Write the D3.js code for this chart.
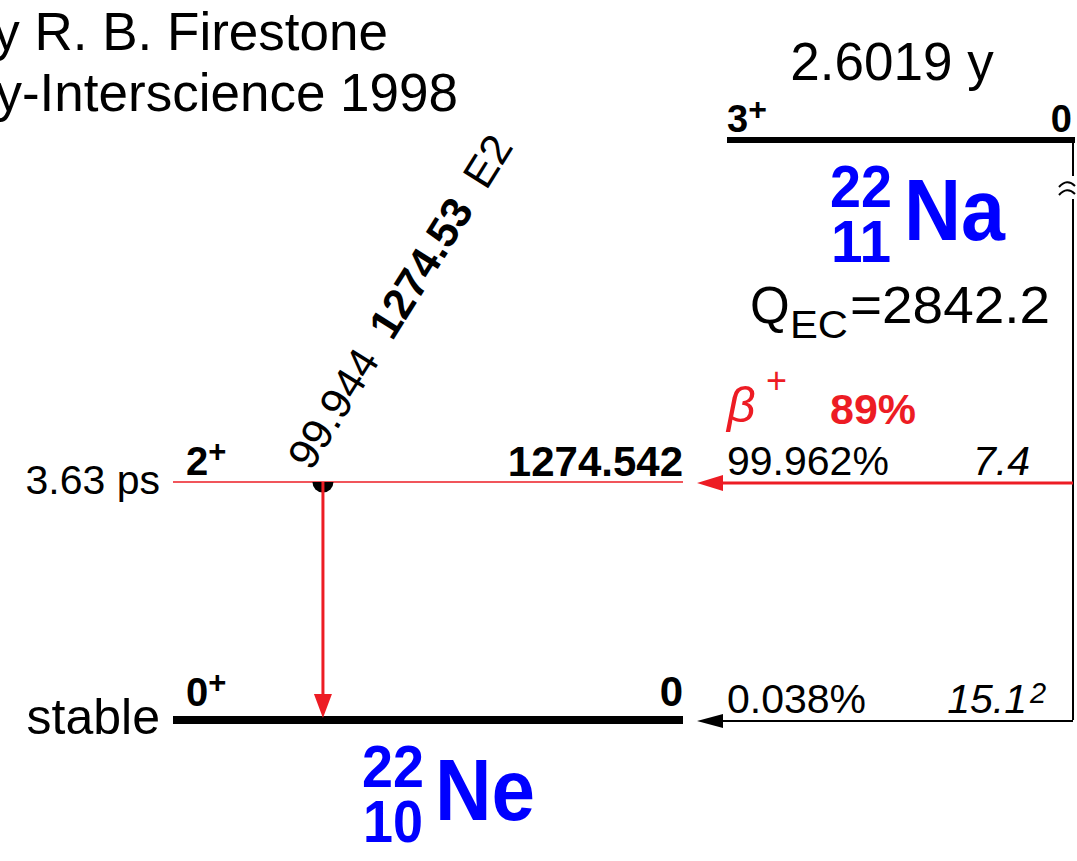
<!DOCTYPE html>
<html>
<head>
<meta charset="utf-8">
<script src="https://cdn.jsdelivr.net/npm/d3@7"></script>
<style>
  body { margin: 0; background: #fff; }
  svg { display: block; }
  text { font-family: "Liberation Sans", Arial, Helvetica, sans-serif; }
</style>
</head>
<body>
<svg id="chart" width="1077" height="861"></svg>
<script>
// Decay scheme: 22Na (EC + beta+) -> 22Ne

// daughter (22Ne) levels
const levelEnergies     = [0, 1274.542];
const levelEnergyLabels = ["0", "1274.542"];
const levelSpins        = ["0", "2"];
const levelParities     = ["+", "+"];
const levelHalfLives    = ["stable", "3.63 ps"];

// feeding branches from the parent ground state
const branchIntensities = ["0.038%", "99.962%"];
const branchLogFt       = ["15.1", "7.4"];
const branchLogFtNote   = ["2", ""];

// gamma transitions
const gammaFrom            = [1274.542];
const gammaTo              = [0];
const gammaEnergies        = ["1274.53"];
const gammaIntensities     = ["99.944"];
const gammaMultipolarities = ["E2"];

// parent (22Na)
const parentSpin      = "3";
const parentParity    = "+";
const parentEnergy    = "0";
const parentHalfLife  = "2.6019 y";
const qValueEC        = "2842.2";
const betaPlusPercent = "89%";

const credits = ["by R. B. Firestone", "Wiley-Interscience 1998"];

const RED = "#ed1c24";
const BLUE = "#0000ff";

const svg = d3.select("#chart");

// energy scale for the daughter levels; the parent sits above an axis break
const y = d3.scaleLinear().domain([0, d3.max(levelEnergies)]).range([720, 482]);
const yParent = 140;

// horizontal layout
const x = d3.scaleLinear().domain([0, 1]).range([173, 683]);   // daughter level span
const parentX0 = 727, parentX1 = 1075;
const dropX = 1073;                 // vertical line from the parent
const gammaX = x(0.294);
const arrowTipX = 697;

// credits, top left
svg.append("g").selectAll("text").data(credits).join("text")
  .attr("x", (d, i) => i === 0 ? 388 : 458)
  .attr("y", (d, i) => 50 + i * 61)
  .attr("text-anchor", "end")
  .attr("font-size", 53)
  .text(d => d);

// ---------- parent level ----------
const parent = svg.append("g");
parent.append("line")
  .attr("x1", parentX0).attr("x2", parentX1)
  .attr("y1", yParent).attr("y2", yParent)
  .attr("stroke", "#000").attr("stroke-width", 6);

const pSpin = parent.append("text")
  .attr("x", parentX0).attr("y", yParent - 8)
  .attr("font-size", 38).attr("font-weight", "bold");
pSpin.append("tspan").text(parentSpin);
pSpin.append("tspan").attr("dy", -12).attr("font-size", 32).text(parentParity);

parent.append("text")
  .attr("x", 1072).attr("y", yParent - 8)
  .attr("text-anchor", "end")
  .attr("font-size", 38).attr("font-weight", "bold")
  .text(parentEnergy);

parent.append("text")
  .attr("x", 892).attr("y", 80)
  .attr("text-anchor", "middle")
  .attr("font-size", 53)
  .text(parentHalfLife);

// nuclide symbol with mass number over atomic number
function nuclide(g, xNum, xSym, yTop, A, Z, sym, symLen) {
  const t = g.append("g").attr("fill", BLUE).attr("font-weight", "bold");
  t.append("text").attr("x", xNum).attr("y", yTop + 45)
    .attr("font-size", 60).attr("textLength", 62).attr("lengthAdjust", "spacingAndGlyphs").text(A);
  t.append("text").attr("x", xNum + 1).attr("y", yTop + 100)
    .attr("font-size", 60).attr("textLength", 60).attr("lengthAdjust", "spacingAndGlyphs").text(Z);
  t.append("text").attr("x", xSym).attr("y", yTop + 78)
    .attr("font-size", 87).attr("textLength", symLen).attr("lengthAdjust", "spacingAndGlyphs").text(sym);
}
nuclide(parent, 830, 904, 162, "22", "11", "Na", 101);

// Q value
parent.append("text").attr("x", 750).attr("y", 323).attr("font-size", 51).text("Q");
parent.append("text").attr("x", 790).attr("y", 338).attr("font-size", 38)
  .attr("textLength", 58).attr("lengthAdjust", "spacingAndGlyphs").text("EC");
parent.append("text").attr("x", 850).attr("y", 323).attr("font-size", 52)
  .attr("textLength", 200).attr("lengthAdjust", "spacingAndGlyphs").text("=" + qValueEC);

// vertical drop line with an axis break
const yBreakTop = 176, yBreakBot = 199;
parent.append("line")
  .attr("x1", dropX).attr("x2", dropX).attr("y1", yParent).attr("y2", yBreakTop)
  .attr("stroke", "#000").attr("stroke-width", 2);
parent.append("line")
  .attr("x1", dropX).attr("x2", dropX).attr("y1", yBreakBot).attr("y2", y(0))
  .attr("stroke", "#000").attr("stroke-width", 2);
[184, 192].forEach(yy => {
  parent.append("path")
    .attr("d", `M${dropX - 14},${yy + 3} Q${dropX - 6},${yy - 6} ${dropX + 2},${yy + 2}`)
    .attr("fill", "none").attr("stroke", "#000").attr("stroke-width", 2);
});

// beta+ label
const beta = parent.append("g").attr("fill", RED);
beta.append("text").attr("x", 727).attr("y", 422)
  .attr("font-style", "italic").attr("font-size", 50).text("β");
beta.append("text").attr("x", 766).attr("y", 393)
  .attr("font-size", 36).text("+");
beta.append("text").attr("x", 830).attr("y", 424)
  .attr("font-size", 43).attr("font-weight", "bold").text(betaPlusPercent);

// ---------- daughter levels ----------
const levels = svg.append("g");
const levelData = levelEnergies.map((e, i) => ({
  e, label: levelEnergyLabels[i], spin: levelSpins[i], par: levelParities[i], hl: levelHalfLives[i]
}));

levels.selectAll("line.level").data(levelData).join("line")
  .attr("class", "level")
  .attr("x1", x(0)).attr("x2", x(1))
  .attr("y1", d => y(d.e)).attr("y2", d => y(d.e))
  .attr("stroke", d => d.e === 0 ? "#000" : RED)
  .attr("stroke-width", d => d.e === 0 ? 8 : 1.6);

levelData.forEach(d => {
  // spin / parity
  const t = levels.append("text")
    .attr("x", 186).attr("y", y(d.e) - (d.e === 0 ? 14 : 7))
    .attr("font-size", 40).attr("font-weight", "bold");
  t.append("tspan").text(d.spin);
  t.append("tspan").attr("dy", -13).attr("font-size", 31).text(d.par);

  // level energy
  levels.append("text")
    .attr("x", x(1)).attr("y", y(d.e) - (d.e === 0 ? 14 : 6))
    .attr("text-anchor", "end")
    .attr("font-size", 42).attr("font-weight", "bold")
    .text(d.label);

  // half-life
  levels.append("text")
    .attr("x", 160).attr("y", y(d.e) + (d.e === 0 ? 14 : 12))
    .attr("text-anchor", "end")
    .attr("font-size", d.e === 0 ? 50 : 41)
    .text(d.hl);
});

nuclide(levels, 362, 435, 742, "22", "10", "Ne", 100);

// ---------- feeding branches ----------
const branches = svg.append("g");
levelData.forEach((d, i) => {
  const strong = parseFloat(branchIntensities[i]) > 10;
  const col = strong ? RED : "#000";
  const yy = y(d.e) + 1;
  branches.append("line")
    .attr("x1", dropX).attr("x2", arrowTipX + 22)
    .attr("y1", yy).attr("y2", yy)
    .attr("stroke", col).attr("stroke-width", strong ? 3 : 1.8);
  const hh = strong ? 8 : 7;
  branches.append("path")
    .attr("d", `M${arrowTipX},${yy} L${arrowTipX + 26},${yy - hh} L${arrowTipX + 26},${yy + hh} Z`)
    .attr("fill", col);

  branches.append("text")
    .attr("x", 727).attr("y", y(d.e) - 7)
    .attr("font-size", 41)
    .text(branchIntensities[i]);

  branches.append("text")
    .attr("x", branchLogFtNote[i] ? 1027 : 1030).attr("y", y(d.e) - 7)
    .attr("text-anchor", "end")
    .attr("font-size", 41).attr("font-style", "italic")
    .text(branchLogFt[i]);
  if (branchLogFtNote[i]) {
    branches.append("text")
      .attr("x", 1030).attr("y", y(d.e) - 17)
      .attr("font-size", 29).attr("font-style", "italic")
      .text(branchLogFtNote[i]);
  }
});

// ---------- gamma transitions ----------
const gammas = svg.append("g");
gammaEnergies.forEach((ge, i) => {
  const y1 = y(gammaFrom[i]), y2 = y(gammaTo[i]) - 2;
  gammas.append("path")
    .attr("transform", `translate(${gammaX},${y1})`)
    .attr("d", d3.arc().innerRadius(0).outerRadius(10.5).startAngle(Math.PI / 2).endAngle(3 * Math.PI / 2)())
    .attr("fill", "#000");
  gammas.append("line")
    .attr("x1", gammaX).attr("x2", gammaX)
    .attr("y1", y1).attr("y2", y2 - 20)
    .attr("stroke", RED).attr("stroke-width", 3);
  gammas.append("path")
    .attr("d", `M${gammaX},${y2} L${gammaX - 9},${y2 - 24} L${gammaX + 9},${y2 - 24} Z`)
    .attr("fill", RED);

  const lab = gammas.append("text")
    .attr("transform", `translate(${gammaX - 12},${y1 - 10}) rotate(-58)`)
    .attr("font-size", 43);
  lab.append("tspan").text(gammaIntensities[i]);
  lab.append("tspan").attr("dx", 22).attr("font-weight", "bold").text(ge);
  lab.append("tspan").attr("dx", 22).text(gammaMultipolarities[i]);
});
</script>
</body>
</html>
